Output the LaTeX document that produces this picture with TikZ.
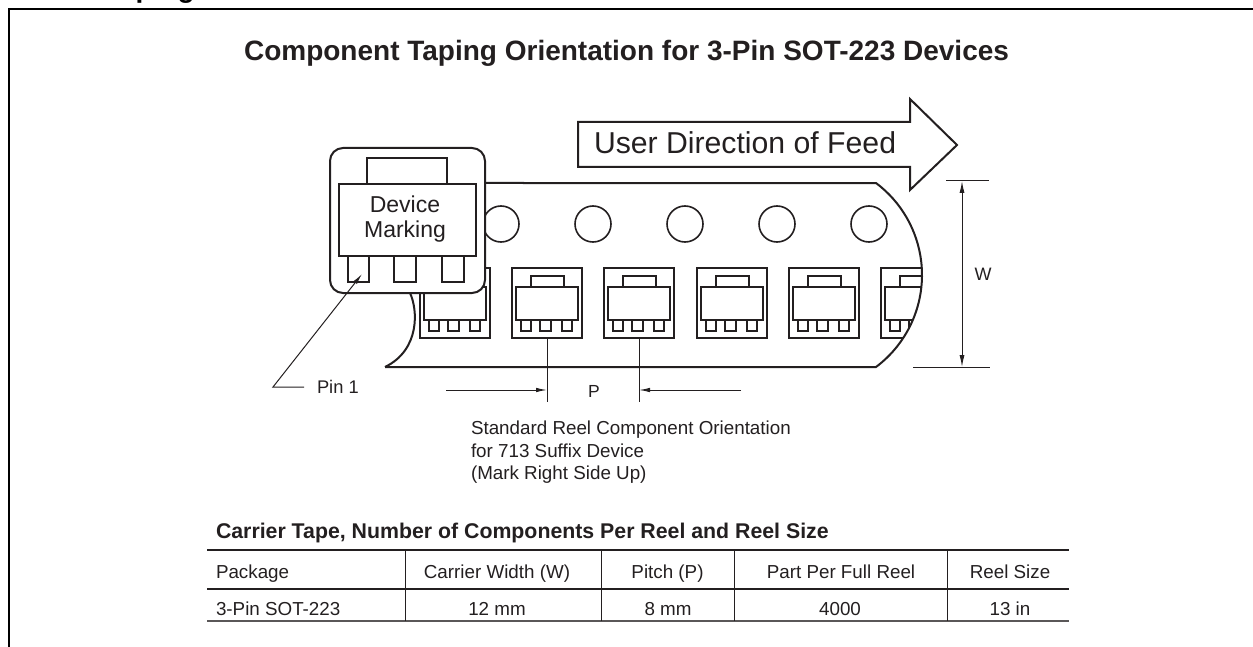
\documentclass[tikz,border=0pt]{standalone}
\usepackage{fontspec}
\setmainfont{Liberation Sans}
\usetikzlibrary{arrows.meta}
\definecolor{ink}{HTML}{231F20}
\tikzset{
  px/.style={x=1pt,y=-1pt},
  thick line/.style={draw=ink,line width=2pt},
  thin line/.style={draw=ink,line width=1pt},
  pocket line/.style={draw=ink,line width=1.8pt},
  txt/.style={inner sep=0pt,outer sep=0pt,text=ink,font=\fontsize{18.8}{18.8}\selectfont},
  tip/.style={-{Latex[length=11pt,width=4.5pt]}},
}
\newcommand{\pocketat}[1]{%
  \begin{scope}[shift={(#1,268)}]
    \draw[pocket line] (0,0) rectangle (70,70);
    \draw[pocket line] (19,8) rectangle (52,19);
    \draw[pocket line] (4,19) rectangle (66,52);
    \draw[pocket line] (9,52) rectangle (19,63);
    \draw[pocket line] (28,52) rectangle (39,63);
    \draw[pocket line] (50,52) rectangle (60,63);
  \end{scope}}
\begin{document}
\begin{tikzpicture}[px]
\useasboundingbox (0,0) rectangle (1253,647);
% frame
\coordinate (fa) at (9,647); \coordinate (fb) at (9,9); \coordinate (fc) at (1253,9);
\draw[black,line width=2.2pt] (fa) -- (fb) -- (fc);
\node[txt,anchor=base west,font=\bfseries\fontsize{28}{28}\selectfont,text=black] (head) at (105,-2) {Taping};
% title
\node[txt,anchor=base,font=\bfseries\fontsize{28}{28}\selectfont] (title) at (626.5,61) {Component Taping Orientation for 3-Pin SOT-223 Devices};
% feed arrow
\draw[thick line] (578,122) -- (910,122) -- (910,99) -- (957,145) -- (910,190) -- (910,167) -- (578,167) -- cycle;
\node[txt,anchor=base west,font=\fontsize{30.2}{30.2}\selectfont] (feed) at (594,154) {User Direction of Feed};
% tape
\draw[thick line] (385,367) -- (876,367) arc[start angle=53.13,end angle=-53.13,radius=115] -- (470,183);
\draw[thick line] (410,293) .. controls (418,310) and (420,350) .. (385,367);
\foreach \hx in {501,593,685,777,869} \draw[draw=ink,line width=1.6pt] (\hx,224) circle[radius=18];
\pocketat{420}\pocketat{512}\pocketat{604}\pocketat{697}\pocketat{789}
\begin{scope}
  \clip (870,183) -- (876,183) arc[start angle=-53.13,end angle=53.13,radius=115] -- (870,367) -- cycle;
  \pocketat{881}
\end{scope}
% device
\draw[thick line,fill=white,rounded corners=13pt] (330,148) rectangle (485,293);
\draw[thick line] (367,184) -- (367,158) -- (447,158) -- (447,184);
\draw[thick line] (339,184) rectangle (476,256);
\draw[thick line] (348,256) -- (348,282) -- (369,282) -- (369,256);
\draw[thick line] (394,256) -- (394,282) -- (416,282) -- (416,256);
\draw[thick line] (442,256) -- (442,282) -- (464,282) -- (464,256);
\node[txt,anchor=base,font=\fontsize{23}{23}\selectfont] (dm1) at (405,213) {Device};
\node[txt,anchor=base,font=\fontsize{23}{23}\selectfont] (dm2) at (405,237) {Marking};
% pin 1 leader
\coordinate (pa) at (304,387); \coordinate (pb) at (273,387); \coordinate (pc) at (362,274);
\draw[thin line,tip] (pa) -- (pb) -- (pc);
\node[txt,anchor=base west,font=\fontsize{18.3}{18.3}\selectfont] (pin) at (317,393) {Pin 1};
% P dim
\coordinate (p1t) at (547,338); \coordinate (p1b) at (547,402);
\coordinate (p2t) at (639,338); \coordinate (p2b) at (639,402);
\draw[thin line] (p1t) -- (p1b);
\draw[thin line] (p2t) -- (p2b);
\coordinate (pl) at (446,390); \coordinate (pla) at (547,390);
\coordinate (pr) at (741,390); \coordinate (pra) at (639,390);
\draw[thin line,tip] (pl) -- (pla);
\draw[thin line,tip] (pr) -- (pra);
\node[txt,anchor=base,font=\fontsize{17.5}{17.5}\selectfont] (plab) at (594,397) {P};
% W dim
\coordinate (wt1) at (946,181); \coordinate (wt2) at (989,181);
\coordinate (wb1) at (913,367); \coordinate (wb2) at (990,367);
\coordinate (wu) at (962,181); \coordinate (wd) at (962,367);
\draw[thin line] (wt1) -- (wt2);
\draw[thin line] (wb1) -- (wb2);
\draw[thin line,{Latex[length=12pt,width=5pt]}-{Latex[length=12pt,width=5pt]}] (wu) -- (wd);
\node[txt,anchor=base,font=\fontsize{18}{18}\selectfont] (wlab) at (983,280) {W};
% caption
\node[txt,anchor=base west] (c1) at (471,434) {Standard Reel Component Orientation};
\node[txt,anchor=base west] (c2) at (471,457) {for 713 Suffix Device};
\node[txt,anchor=base west] (c3) at (471,479) {(Mark Right Side Up)};
% table
\node[txt,anchor=base west,font=\bfseries\fontsize{21.3}{21.3}\selectfont] (tt) at (216,538) {Carrier Tape, Number of Components Per Reel and Reel Size};
\coordinate (tl1) at (207,550); \coordinate (tr1) at (1069,550);
\coordinate (tl2) at (207,589); \coordinate (tr2) at (1069,589);
\coordinate (tl3) at (207,621); \coordinate (tr3) at (1069,621);
\draw[ink,line width=2pt] (tl1) -- (tr1);
\draw[ink,line width=1.7pt] (tl2) -- (tr2);
\draw[ink!75,line width=1.2pt] (tl3) -- (tr3);
\foreach \vx in {405,601,734,947} \draw[ink,line width=1pt] (\vx,550) -- (\vx,621);
\node[txt,anchor=base west] (h1) at (216,578) {Package};
\node[txt,anchor=base] (h2) at (497,578) {Carrier Width (W)};
\node[txt,anchor=base] (h3) at (667.5,578) {Pitch (P)};
\node[txt,anchor=base] (h4) at (841,578) {Part Per Full Reel};
\node[txt,anchor=base] (h5) at (1010,578) {Reel Size};
\node[txt,anchor=base west] (d1) at (216,615) {3-Pin SOT-223};
\node[txt,anchor=base] (d2) at (497,615) {12 mm};
\node[txt,anchor=base] (d3) at (668,615) {8 mm};
\node[txt,anchor=base] (d4) at (840,615) {4000};
\node[txt,anchor=base] (d5) at (1010,615) {13 in};
\end{tikzpicture}
\end{document}
